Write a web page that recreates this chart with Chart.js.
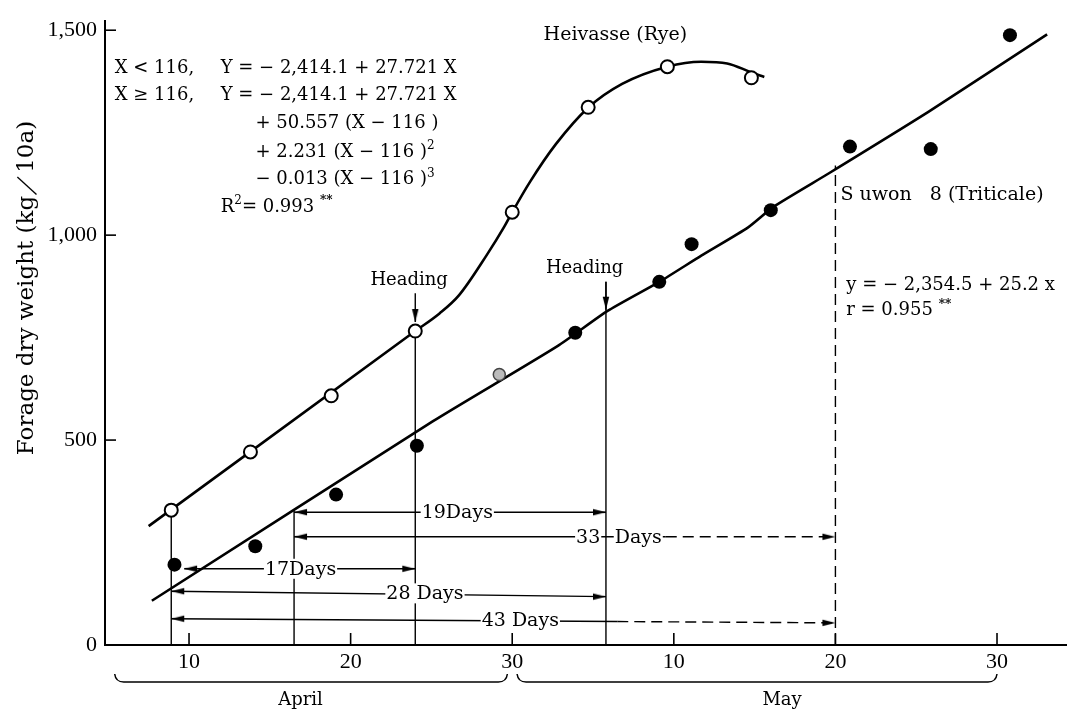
<!DOCTYPE html>
<html>
<head>
<meta charset="utf-8">
<script src="https://cdn.jsdelivr.net/npm/chart.js@4.4.1/dist/chart.umd.min.js"></script>
<style>
  html, body { margin: 0; padding: 0; background: #fff; }
  #wrap { width: 1075px; height: 713px; }
</style>
</head>
<body>
<div id="wrap"><canvas id="chart" width="1075" height="713"></canvas></div>
<script>
// x = day of year (Apr 10 = 100, May 10 = 130), y = kg/10a
const yTicks = [0, 500, 1000, 1500];
const xTicks = [100, 110, 120, 130, 140, 150];
const xTickLabels = ["10", "20", "30", "10", "20", "30"];

// Heivasse (Rye) observations and fitted curve
const ryeX = [98.9, 103.8, 108.8, 114, 120, 124.7, 129.6, 134.8];
const ryeY = [329, 471, 608, 766, 1056, 1312, 1411, 1384];
const ryeCurveX = [97.5, 114, 115.5, 116.7, 118.4, 119.5, 120, 121.1, 122.7, 124.7, 126.8, 129.6, 131.7, 133.3, 134.8, 135.6];
const ryeCurveY = [290, 766, 809, 853, 950, 1020, 1056, 1130, 1222, 1311, 1369, 1411, 1423, 1419, 1397, 1386];

// Suwon 8 (Triticale) observations and fitted line
const triX = [99.1, 104.1, 109.1, 114.1, 123.9, 129.1, 131.1, 136, 140.9, 145.9, 150.8];
const triY = [196, 241, 367, 486, 762, 886, 978, 1061, 1216, 1210, 1488];
const triGreyX = [119.2];
const triGreyY = [660];
const triLineX = [97.7, 115.1, 122.8, 125.9, 129.1, 131.7, 134.6, 136.2, 139.6, 145.8, 153.1];
const triLineY = [108, 546, 729, 815, 886, 950, 1019, 1070, 1151, 1302, 1490];

// vertical guide lines (date, top value)
const guideX = [98.9, 106.5, 114, 125.8, 140];
const guideTop = [329, 329, 766, 886, 1170];
const guideDashed = [false, false, false, false, true];

// heading arrows
const headingLabels = ["Heading", "Heading"];
const headingX = [114, 125.8];
const headingFrom = [858, 886];
const headingTo = [788, 818];
const headingLabelX = [113.62, 124.48];
const headingLabelY = [889, 918];

// day-span arrows
const spanX0 = [99.7, 106.5, 98.9, 106.5, 98.9];
const spanX1 = [114, 125.8, 125.8, 140, 140];
const spanY0 = [186, 324, 131, 264, 64];
const spanY1 = [186, 324, 118, 264, 54];
const spanDashFrom = [null, null, null, 129.5, 126.5];
const spanLabelText = ["17Days", "19Days", "28 Days", "33", "Days", "43 Days"];
const spanLabelX = [106.9, 116.6, 114.6, 124.7, 127.8, 120.5];
const spanLabelY = [186, 324, 126, 264, 264, 60];

const months = ["April", "May"];
const monthFrom = [95.4, 120.3];
const monthTo = [119.7, 150];
const monthLabelX = [106.9, 136.7];

function arrowHead() {
  const c = document.createElement("canvas");
  c.width = 30; c.height = 10;
  const g = c.getContext("2d");
  g.fillStyle = "#000";
  g.beginPath();
  g.moveTo(15, 5); g.lineTo(2, 1.8); g.lineTo(2, 8.2); g.closePath();
  g.fill();
  return c;
}
const head = arrowHead();

const pts = (xs, ys) => xs.map((x, i) => ({ x, y: ys[i] }));
const lerp = (x0, y0, x1, y1, x) => y0 + (y1 - y0) * (x - x0) / (x1 - x0);

const datasets = [
  { data: pts(ryeX, ryeY), pointRadius: 6.5, pointBorderWidth: 2, pointBackgroundColor: "#fff", pointBorderColor: "#000", showLine: false, order: 0 },
  { data: pts(triX, triY), pointRadius: 7, pointBorderWidth: 0, pointBackgroundColor: "#000", showLine: false, order: 0 },
  { data: pts(triGreyX, triGreyY), pointRadius: 6, pointBorderWidth: 1.5, pointBackgroundColor: "#bbb", pointBorderColor: "#444", showLine: false, order: 0 },
  { data: pts(ryeCurveX, ryeCurveY), showLine: true, borderColor: "#000", borderWidth: 2.6, pointRadius: 0, cubicInterpolationMode: "monotone", order: 2 },
  { data: pts(triLineX, triLineY), showLine: true, borderColor: "#000", borderWidth: 2.6, pointRadius: 0, tension: 0.2, order: 2 },
];

guideX.forEach((x, i) => {
  datasets.push({
    data: [{ x, y: 0 }, { x, y: guideTop[i] }], showLine: true, borderColor: "#000",
    borderWidth: 1.4, borderDash: guideDashed[i] ? [11, 6] : [], pointRadius: 0, order: 3,
  });
});

const arrowPts = [];
const arrowRot = [];
headingX.forEach((x, i) => {
  datasets.push({
    data: [{ x, y: headingFrom[i] }, { x, y: headingTo[i] }], showLine: true,
    borderColor: "#000", borderWidth: 1.4, pointRadius: 0, order: 3,
  });
  arrowPts.push({ x, y: headingTo[i] });
  arrowRot.push(90);
});

spanX0.forEach((x0, i) => {
  const d = spanDashFrom[i];
  const data = [{ x: x0, y: spanY0[i] }];
  if (d !== null) data.push({ x: d, y: lerp(x0, spanY0[i], spanX1[i], spanY1[i], d) });
  data.push({ x: spanX1[i], y: spanY1[i] });
  datasets.push({
    data, showLine: true, borderColor: "#000", borderWidth: 1.4, pointRadius: 0, order: 3,
    segment: { borderDash: (ctx) => (d !== null && ctx.p0DataIndex === 1 ? [11, 6] : undefined) },
  });
  arrowPts.push({ x: x0, y: spanY0[i] }); arrowRot.push(180);
  arrowPts.push({ x: spanX1[i], y: spanY1[i] }); arrowRot.push(0);
});

datasets.push({
  data: arrowPts, showLine: false, pointStyle: head, pointRotation: arrowRot, order: 1,
});

const SERIF = "'DejaVu Serif', serif";

// texts placed in data coordinates
const notes = [
  { x: 95.4, y: 1408, parts: [{ t: "X < 116," }] },
  { x: 101.96, y: 1408, parts: [{ t: "Y = − 2,414.1 + 27.721 X" }] },
  { x: 95.4, y: 1341, parts: [{ t: "X ≥ 116," }] },
  { x: 101.96, y: 1341, parts: [{ t: "Y = − 2,414.1 + 27.721 X" }] },
  { x: 104.11, y: 1273, parts: [{ t: "+ 50.557 (X − 116 )" }] },
  { x: 104.11, y: 1203, parts: [{ t: "+ 2.231 (X − 116 )" }, { t: "2", sup: true }] },
  { x: 104.11, y: 1135, parts: [{ t: "− 0.013 (X − 116 )" }, { t: "3", sup: true }] },
  { x: 101.96, y: 1068, parts: [{ t: "R" }, { t: "2", sup: true }, { t: "= 0.993 " }, { t: "**", sup: true, bold: true }] },
  { x: 126.38, y: 1488, align: "center", size: 19, parts: [{ t: "Heivasse (Rye)" }] },
  { x: 140.31, y: 1099, size: 19, parts: [{ t: "S uwon   8 (Triticale)" }] },
  { x: 140.67, y: 877, parts: [{ t: "y = − 2,354.5 + 25.2 x" }] },
  { x: 140.67, y: 816, parts: [{ t: "r = 0.955 " }, { t: "**", sup: true, bold: true }] },
];
headingLabels.forEach((t, i) => {
  notes.push({ x: headingLabelX[i], y: headingLabelY[i], align: "center", parts: [{ t }] });
});

function drawParts(ctx, x, y, parts, size, align) {
  const fontOf = (p) => `${p.bold ? "bold " : ""}${p.sup ? Math.round(size * 0.66) : size}px ${SERIF}`;
  let w = 0;
  parts.forEach((p) => { ctx.font = fontOf(p); w += ctx.measureText(p.t).width; });
  let cx = align === "center" ? x - w / 2 : x;
  ctx.textAlign = "left";
  ctx.textBaseline = "middle";
  parts.forEach((p) => {
    ctx.font = fontOf(p);
    ctx.fillText(p.t, cx, p.sup ? y - size * 0.34 : y);
    cx += ctx.measureText(p.t).width;
  });
}

function brace(ctx, x0, x1, yTop, yBot) {
  ctx.beginPath();
  ctx.moveTo(x0, yTop);
  ctx.quadraticCurveTo(x0 + 1, yBot, x0 + 9, yBot);
  ctx.lineTo(x1 - 9, yBot);
  ctx.quadraticCurveTo(x1 - 1, yBot, x1, yTop);
  ctx.stroke();
}

const decorations = {
  id: "decorations",
  afterDraw(chart) {
    const { ctx, chartArea } = chart;
    const xs = chart.scales.x, ys = chart.scales.y;
    ctx.save();
    ctx.strokeStyle = "#000";
    ctx.fillStyle = "#000";
    ctx.lineWidth = 1.6;
    // inward tick marks
    yTicks.forEach((v) => {
      if (v === 0) return;
      const py = ys.getPixelForValue(v);
      ctx.beginPath(); ctx.moveTo(chartArea.left, py); ctx.lineTo(chartArea.left + 11, py); ctx.stroke();
    });
    xTicks.forEach((v) => {
      const px = xs.getPixelForValue(v);
      ctx.beginPath(); ctx.moveTo(px, chartArea.bottom); ctx.lineTo(px, chartArea.bottom - 12); ctx.stroke();
    });
    // span labels with white backing
    ctx.font = `19px ${SERIF}`;
    ctx.textAlign = "center";
    ctx.textBaseline = "middle";
    spanLabelText.forEach((t, i) => {
      const px = xs.getPixelForValue(spanLabelX[i]);
      const py = ys.getPixelForValue(spanLabelY[i]);
      const w = ctx.measureText(t).width;
      ctx.fillStyle = "#fff";
      ctx.fillRect(px - w / 2 - 1, py - 10, w + 2, 20);
      ctx.fillStyle = "#000";
      ctx.fillText(t, px, py + 1);
    });
    notes.forEach((n) => {
      drawParts(ctx, xs.getPixelForValue(n.x), ys.getPixelForValue(n.y), n.parts, n.size || 18, n.align);
    });
    // month braces
    ctx.lineWidth = 1.5;
    months.forEach((m, i) => {
      const x0 = xs.getPixelForValue(monthFrom[i]);
      const x1 = xs.getPixelForValue(monthTo[i]);
      brace(ctx, x0, x1, chartArea.bottom + 29, chartArea.bottom + 37);
      drawParts(ctx, xs.getPixelForValue(monthLabelX[i]), chartArea.bottom + 55, [{ t: m }], 18, "center");
    });
    // y axis title
    ctx.translate(27, 288);
    ctx.rotate(-Math.PI / 2);
    drawParts(ctx, 0, 0, [{ t: "Forage dry weight (kg／10a)" }], 23, "center");
    ctx.restore();
  },
};

new Chart(document.getElementById("chart"), {
  type: "scatter",
  data: { datasets },
  plugins: [decorations],
  options: {
    responsive: false,
    animation: false,
    layout: { padding: { top: 15, right: 0, left: 0, bottom: 0 } },
    plugins: { legend: { display: false }, tooltip: { enabled: false } },
    elements: { line: { fill: false } },
    datasets: { scatter: { clip: false } },
    scales: {
      x: {
        type: "linear", min: 94.8, max: 154.3,
        afterBuildTicks: (s) => { s.ticks = xTicks.map((value) => ({ value })); },
        afterFit: (s) => { s.height = 68; },
        ticks: {
          color: "#000", padding: 4, maxRotation: 0,
          font: { family: "'Liberation Serif', serif", size: 22 },
          callback: (v) => xTickLabels[xTicks.indexOf(v)],
        },
        grid: { display: false, drawTicks: false },
        border: { display: true, color: "#000", width: 2 },
      },
      y: {
        type: "linear", min: 0, max: 1522,
        afterBuildTicks: (s) => { s.ticks = yTicks.map((value) => ({ value })); },
        afterFit: (s) => { s.width = 105; },
        ticks: {
          color: "#000", padding: 8,
          font: { family: "'Liberation Serif', serif", size: 22 },
          callback: (v) => v.toLocaleString("en-US"),
        },
        grid: { display: false, drawTicks: false },
        border: { display: true, color: "#000", width: 2 },
      },
    },
  },
});
</script>
</body>
</html>
